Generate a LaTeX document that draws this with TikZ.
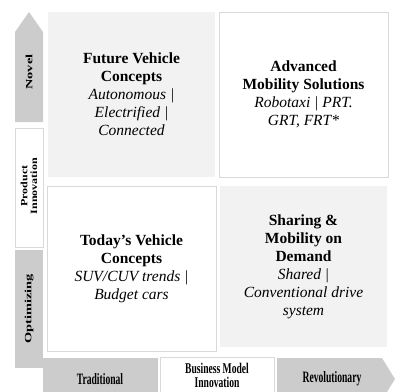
\documentclass[tikz,border=0pt]{standalone}
\usepackage{fontspec}
\usepackage{graphicx}
\setmainfont{Liberation Serif}
\definecolor{axisgray}{HTML}{CCCCCC}
\definecolor{panelgray}{HTML}{F2F2F2}
\definecolor{edgegray}{HTML}{D9D9D9}
\begin{document}
\begin{tikzpicture}[x=1pt,y=-1pt,
  greypanel/.style={fill=panelgray,draw=none,inner sep=0pt,align=center,
    font=\fontsize{15.5}{18}\selectfont},
  whitepanel/.style={fill=white,draw=edgegray,line width=0.8pt,inner sep=0pt,align=center,
    font=\fontsize{15.5}{18}\selectfont},
  axisshape/.style={fill=axisgray,draw=none},
  axisbox/.style={fill=white,draw=edgegray,line width=0.8pt},
  axislabel/.style={font=\fontsize{9.6}{9.6}\selectfont\bfseries,align=center,inner sep=0pt},
]
\useasboundingbox (0,0) rectangle (396,391);
\clip (0,0) rectangle (396,391);

% quadrants
\node (fvc) [greypanel,minimum width=167pt,minimum height=165pt] at (131.5,94.5)
  {\textbf{Future Vehicle}\\\textbf{Concepts}\\\textit{Autonomous |}\\\textit{Electrified |}\\\textit{Connected}};
\node (ams) [whitepanel,minimum width=169pt,minimum height=165pt] at (303.5,94.5)
  {\textbf{Advanced}\\\textbf{Mobility Solutions}\\\textit{Robotaxi | PRT.}\\\textit{GRT, FRT*}};
\node (tvc) [whitepanel,minimum width=169pt,minimum height=165pt] at (131.5,268.5)
  {\textbf{Today's Vehicle}\\\textbf{Concepts}\\\textit{SUV/CUV trends |}\\\textit{Budget cars}};
\node (smd) [greypanel,minimum width=167pt,minimum height=161pt] at (303.5,266.5)
  {\textbf{Sharing \&}\\\textbf{Mobility on}\\\textbf{Demand}\\\textit{Shared |}\\\textit{Conventional drive}\\\textit{system}};

% vertical axis: product innovation
\fill[axisshape] (15,122) -- (15,32) -- (29,12) -- (43,32) -- (43,122) -- cycle;
\node (novel) [axislabel,rotate=90] at (29,72) {\scalebox{1.5}[1]{Novel}};
\draw[axisbox] (15,128) rectangle (43,247);
\node (product) [axislabel,rotate=90] at (29,186)
  {\scalebox{1.25}[1]{Product}\\\scalebox{1.25}[1]{Innovation}};
\fill[axisshape] (15,250) rectangle (43,368);
\node (optimizing) [axislabel,rotate=90] at (29,309) {\scalebox{1.5}[1]{Optimizing}};

% horizontal axis: business model innovation
\fill[axisshape] (43,358) rectangle (158,402);
\node (traditional) [axislabel] at (100,379) {\scalebox{1}[1.65]{Traditional}};
\draw[axisbox] (160,357) rectangle (274,402);
\node (bmi) [axislabel,font=\fontsize{9.6}{14.2}\selectfont\bfseries] at (217,375.5)
  {\scalebox{1}[1.55]{Business Model}\\\scalebox{1}[1.55]{Innovation}};
\fill[axisshape] (277,358) -- (382,358) -- (395,379) -- (382,400) -- (277,400) -- cycle;
\node (revolutionary) [axislabel] at (332,379) {\scalebox{1}[1.65]{Revolutionary}};
\end{tikzpicture}
\end{document}
